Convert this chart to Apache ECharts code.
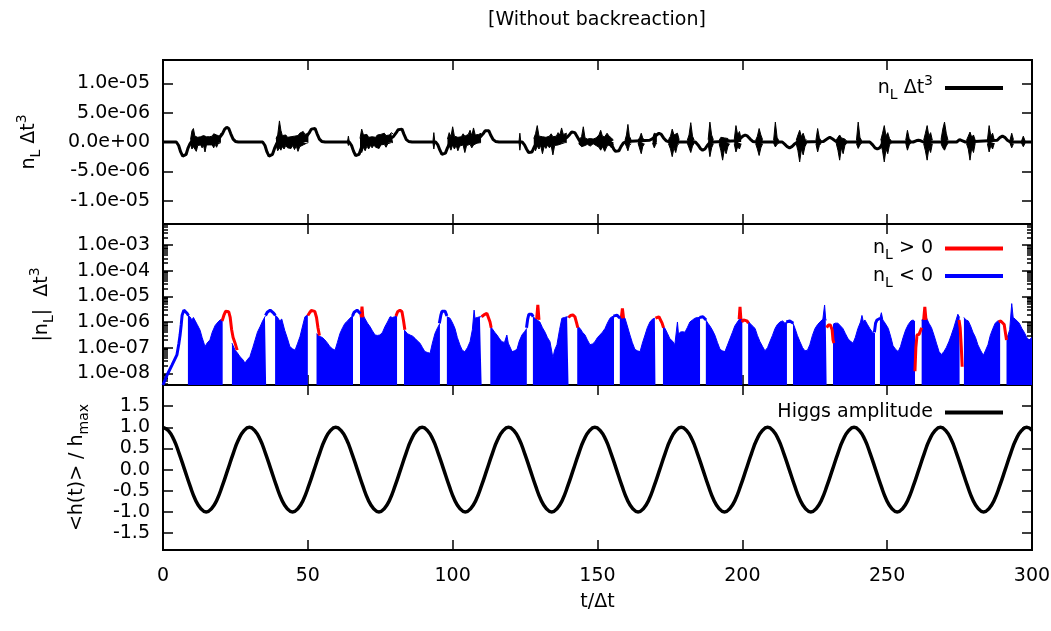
<!DOCTYPE html>
<html>
<head>
<meta charset="utf-8">
<script src="https://cdn.jsdelivr.net/npm/echarts@6/dist/echarts.min.js"></script>
<style>
  html, body { margin: 0; padding: 0; background: #fff; }
  #chart { width: 1051px; height: 631px; }
</style>
</head>
<body>
<div id="chart"></div>
<script>
// ---- axis ticks and labels ----
const xTicks = [0, 50, 100, 150, 200, 250, 300];
const nlTicks = [-1e-5, -5e-6, 0, 5e-6, 1e-5];
const absTicks = [1e-8, 1e-7, 1e-6, 1e-5, 1e-4, 1e-3];
const higgsTicks = [-1.5, -1, -0.5, 0, 0.5, 1, 1.5];

// n_L Δt^3 values are written in units of 1e-6
const MICRO = 1e-6;

// smooth part of the lepton-number trace [t, n_L (1e-6)]
const nlTrace = [
  [0,0],[4.6,0],[5.4,-0.6],[6.1,-1.7],[6.8,-2.4],[7.4,-2.6],[8,-2.1],[8.6,-1.1],[9.3,-0.3],[10,0.2],[11,0.3],[12.5,0.1],[14,0.2],[15.5,0.3],[17,0.2],[18.5,0.5],[19.6,0.8],[20.5,1.4],[21.3,2.2],[22,2.5],[22.7,2.3],[23.4,1.4],[24.2,0.5],[25,0.1],[26,0],
  [34.4,0],[35.2,-0.6],[35.9,-1.7],[36.6,-2.4],[37.2,-2.6],[37.8,-2.1],[38.5,-1.1],[39.2,-0.3],[40,0.2],[42,0.2],[44,0.1],[46,0.3],[48,0.5],[49.5,0.9],[50.4,1.5],[51.2,2.2],[51.8,2.5],[52.5,2.3],[53.2,1.4],[54,0.5],[54.8,0.1],[56,0],
  [64.3,0],[65.1,-0.6],[65.8,-1.6],[66.5,-2.3],[67.1,-2.5],[67.7,-2.1],[68.4,-1.1],[69.1,-0.3],[70,0.1],[72,0.2],[74,0.1],[76,0.3],[78,0.5],[79.5,0.9],[80.4,1.5],[81.2,2.1],[81.8,2.4],[82.5,2.2],[83.2,1.3],[84,0.4],[84.8,0.1],[86,0],
  [94.1,0],[94.9,-0.5],[95.6,-1.4],[96.3,-2.1],[96.9,-2.3],[97.5,-1.9],[98.2,-1.0],[98.9,-0.3],[100,0.1],[102,0.2],[104,0.1],[106,0.3],[108,0.5],[109.6,0.9],[110.5,1.4],[111.2,1.9],[111.8,2.1],[112.5,1.9],[113.2,1.1],[114,0.4],[114.8,0.1],[116,0],
  [124,0],[124.8,-0.5],[125.5,-1.2],[126.2,-1.8],[126.8,-2.0],[127.4,-1.7],[128.1,-0.9],[128.8,-0.3],[130,0.1],[132,0.2],[134,0.1],[136,0.3],[138,0.5],[139.5,0.8],[140.4,1.3],[141.1,1.7],[141.6,1.8],[142.2,1.6],[142.9,1.0],[143.7,0.3],[144.5,0],
  [154,0],[154.9,-0.5],[155.6,-1.2],[156.2,-1.6],[156.8,-1.7],[157.4,-1.5],[158.1,-0.8],[158.9,-0.2],[160,0.1],[168,0.3],[169.5,0.7],[170.4,1.2],[171.2,1.5],[172,1.3],[172.8,0.7],[173.7,0.2],[175,0],
  [183.8,0],[184.7,-0.5],[185.5,-1.1],[186.3,-1.4],[187.1,-1.2],[187.9,-0.6],[188.8,-0.1],[190,0],[198,0.2],[199.3,0.6],[200.2,1.0],[201,1.2],[201.8,1.0],[202.7,0.5],[203.6,0.1],[205,0],
  [213.8,0],[214.7,-0.4],[215.5,-0.8],[216.3,-1.0],[217.1,-0.8],[217.9,-0.4],[218.8,-0.1],[220,0],[228,0.1],[229.2,0.5],[230.2,0.8],[231.2,0.5],[232.3,0.1],[234,0],
  [244,0],[245,-0.5],[245.8,-1.0],[246.6,-1.2],[247.4,-1.0],[248.2,-0.5],[249.2,-0.1],[251,0],[259,0],[260,0.2],[260.8,0.3],[261.6,0.2],[262.5,0],
  [274,0],[275,0.4],[276,0.2],[277,0],[288,0.3],[289,0.8],[289.8,1.0],[290.6,0.8],[291.5,0.3],[292.5,0],[300,0]
];

// noisy bursts of the trace: [t, lower, upper] in 1e-6, null separates bursts
const nlBurst = [
  [9.5,-0.3,0.4],[10,-1.2,1.9],[10.5,-0.8,2.3],[11,-0.5,1.0],[11.5,-1.6,1.3],[12,-0.6,0.8],[12.5,-0.9,1.0],[13,-0.5,0.9],[13.5,-1.0,0.7],[14,-0.6,1.1],[14.5,-1.7,0.8],[15,-0.5,0.9],[15.5,-0.7,1.1],[16,-0.5,0.9],[16.5,-0.8,1.2],[17,-0.5,1.0],[17.5,-1.0,1.4],[18,-0.4,1.6],[18.5,-0.9,1.2],[19,-0.3,1.5],[19.5,-0.5,1.0],[20,-0.1,1.5],null,
  [39,-0.5,0.6],[39.6,-1.5,1.2],[40.2,-1.0,3.6],[40.7,-1.4,2.0],[41.2,-0.8,1.1],[41.8,-1.2,0.9],[42.4,-0.6,1.2],[43,-1.0,0.8],[43.6,-0.7,1.0],[44.2,-1.1,0.9],[44.8,-0.6,1.2],[45.4,-1.3,1.0],[46,-0.7,1.3],[46.6,-1.6,1.1],[47.2,-0.8,1.5],[47.8,-1.0,1.2],[48.4,-0.5,1.8],[49,-0.8,1.3],[49.6,-0.2,1.6],[50.2,-0.1,1.5],null,
  [63.7,-0.1,0.1],[64,-0.6,1.0],[64.3,-0.1,0.1],null,
  [68,-1.2,0.6],[68.6,-1.8,2.2],[69.2,-0.9,1.2],[69.8,-1.5,0.9],[70.4,-0.7,1.3],[71,-1.2,0.8],[71.6,-0.6,1.1],[72.2,-1.0,0.9],[72.8,-0.5,1.0],[73.4,-0.9,0.8],[74,-0.6,1.2],[74.6,-1.1,0.9],[75.2,-0.5,1.3],[75.8,-0.8,1.0],[76.4,-0.4,1.5],[77,-0.9,1.1],[77.6,-0.3,1.4],[78.2,-0.6,1.2],[78.8,-0.1,1.6],[79.4,-0.1,1.4],null,
  [93.2,-0.2,0.2],[93.5,-1.2,1.6],[93.8,-0.2,0.2],null,
  [98.2,-1.0,0.5],[98.8,-0.6,1.6],[99.4,-1.4,0.9],[100,-0.5,2.6],[100.6,-1.2,1.0],[101.2,-0.6,1.2],[101.8,-1.5,0.8],[102.4,-0.7,1.1],[103,-1.0,0.9],[103.6,-0.5,1.4],[104.2,-1.8,1.0],[104.8,-0.6,1.1],[105.4,-0.9,1.3],[106,-0.4,2.0],[106.6,-1.0,1.1],[107.2,-0.5,2.4],[107.8,-0.8,1.2],[108.4,-0.2,1.4],[109,-0.1,1.3],[109.8,-0.1,1.5],null,
  [122.9,-0.1,0.1],[123.2,-1.4,1.5],[123.5,-0.1,0.1],null,
  [128,-0.8,0.6],[128.6,-1.5,1.4],[129.2,-0.7,2.8],[129.8,-1.2,1.0],[130.4,-0.6,1.3],[131,-2.0,0.9],[131.6,-0.7,1.2],[132.2,-1.1,0.8],[132.8,-0.5,1.1],[133.4,-1.0,1.0],[134,-0.6,1.4],[134.6,-2.2,0.9],[135.2,-0.6,1.2],[135.8,-0.9,1.0],[136.4,-0.5,1.6],[137,-0.8,1.2],[137.6,-0.3,2.4],[138.2,-0.6,1.3],[138.8,-0.1,1.4],[139.4,-0.1,1.5],null,
  [143.5,-0.3,0.3],[144.5,-0.8,0.9],[145.1,-1.0,2.6],[145.7,-0.6,0.7],[146.5,-0.4,0.5],[147.5,-0.7,0.6],[148.5,-0.3,0.5],[149.5,-0.6,0.7],[150.5,-0.9,1.2],[151.1,-1.4,2.0],[151.7,-0.8,1.0],[152.5,-1.6,0.9],[153.3,-0.7,1.5],[154,-0.5,1.0],[154.8,-1.0,0.7],[155.5,-0.4,0.3],null,
  [159.5,-0.2,0.3],[160,-0.8,1.2],[160.5,-1.5,3.0],[161,-0.6,1.0],[161.6,-0.3,0.4],null,
  [164,-0.2,0.3],[164.6,-1.2,0.8],[165.1,-2.0,1.5],[165.6,-0.8,0.7],[166.2,-0.3,0.3],null,
  [169,-0.2,0.6],[169.6,-1.0,1.5],[170,-0.5,1.8],[170.5,-0.2,1.3],null,
  [174.5,-0.3,0.4],[175.2,-1.2,1.0],[175.8,-2.5,2.2],[176.4,-1.0,1.2],[177,-1.8,0.9],[177.6,-0.5,1.5],[178.2,-0.3,0.4],null,
  [181,-0.2,0.3],[181.6,-1.0,1.2],[182.2,-1.8,3.3],[182.8,-0.7,1.0],[183.4,-0.2,0.3],null,
  [188.2,-0.3,0.4],[188.8,-2.5,3.4],[189.4,-1.0,1.2],[190,-0.3,0.4],null,
  [192,-0.3,0.3],[192.6,-1.5,0.8],[193.2,-3.1,1.0],[193.8,-1.2,0.7],[194.4,-2.0,0.9],[195,-0.8,0.6],[195.6,-0.3,0.3],null,
  [197.2,-0.3,0.4],[197.8,-1.7,2.8],[198.4,-0.8,1.2],[199,-1.2,1.8],[199.6,-0.3,0.5],null,
  [204.6,-0.3,0.3],[205.2,-1.2,1.0],[205.8,-2.3,2.3],[206.4,-1.0,1.2],[207,-0.3,0.4],null,
  [210.8,-0.2,0.3],[211.4,-0.85,3.4],[212,-0.4,0.8],[212.6,-0.2,0.2],null,
  [218.6,-0.3,0.3],[219.2,-1.5,1.2],[219.8,-3.4,2.0],[220.4,-1.2,0.9],[221,-2.2,1.5],[221.6,-0.8,0.6],[222.2,-0.2,0.3],null,
  [225.4,-0.3,0.3],[226,-1.7,2.3],[226.6,-0.6,0.7],[227.2,-0.2,0.2],null,
  [232.4,-0.2,0.3],[233,-1.4,0.8],[233.6,-3.1,1.2],[234.2,-1.0,0.7],[234.8,-2.0,0.9],[235.4,-0.6,0.5],[236,-0.2,0.2],null,
  [239.4,-0.3,0.3],[240,-1.1,3.4],[240.6,-0.5,0.8],[241.2,-0.2,0.2],null,
  [247.8,-0.3,0.3],[248.4,-1.5,1.5],[249,-3.4,2.8],[249.6,-1.2,1.0],[250.2,-2.0,1.6],[250.8,-0.5,0.6],[251.4,-0.2,0.2],null,
  [256.4,-0.2,0.3],[257,-1.4,2.0],[257.6,-0.5,0.6],[258.2,-0.2,0.2],null,
  [262.6,-0.3,0.3],[263.2,-1.5,1.5],[263.8,-3.1,2.8],[264.4,-1.0,1.0],[265,-1.8,1.6],[265.6,-0.3,0.3],null,
  [268.6,-0.3,0.4],[269.2,-1.0,2.2],[269.8,-1.4,3.4],[270.4,-0.7,1.5],[271,-0.2,0.3],null,
  [277.4,-0.3,0.3],[278,-1.2,1.0],[278.6,-3.1,1.7],[279.2,-1.0,0.8],[279.8,-1.8,1.2],[280.4,-0.2,0.3],null,
  [284.6,-0.3,0.3],[285.2,-1.7,2.8],[285.8,-0.6,1.0],[286.4,-1.2,1.5],[287,-0.2,0.3],null,
  [292.4,-0.2,0.3],[293,-1.0,1.5],[293.6,-0.3,0.4],null,
  [296.4,-0.2,0.2],[297,-0.8,1.0],[297.6,-0.2,0.2]
];

// |n_L| Δt^3: envelope of the rapidly sign-changing stretches (filled to the axis)
const absNoisy = [
  [8.6,1.9e-6],[9.3,1.6e-6],[10,1.2e-6],[10.5,1.5e-6],[11,1.35e-6],[11.8,8e-7],[12.8,4.8e-7],[13.5,2.5e-7],[14.5,1.1e-7],[15.2,1.5e-7],[16.2,2e-7],[17,4e-7],[18,7.3e-7],[19,1e-6],[19.7,1.2e-6],[20.6,1.3e-6],null,
  [23.8,1.5e-7],[24.9,8e-8],[25.8,6e-8],[26.6,4.4e-8],[27.5,3.5e-8],[28.3,2.5e-8],[29.2,3.5e-8],[30,4.4e-8],[31,1e-7],[31.8,2e-7],[32.6,4e-7],[33.5,6.5e-7],[34.4,1.1e-6],[35.2,1.6e-6],[35.6,1.8e-6],null,
  [38.7,1.8e-6],[39.4,1.6e-6],[40.3,1.1e-6],[41,1.3e-6],[42,4.8e-7],[43,2.2e-7],[43.8,1.1e-7],[44.7,9e-8],[45.6,8e-8],[46.5,1.5e-7],[47.3,2.7e-7],[48.2,7e-7],[49,1.6e-6],[50,1.9e-6],null,
  [53,3.5e-7],[54.2,2.7e-7],[55,2.5e-7],[55.9,2e-7],[56.8,1.5e-7],[57.6,1.1e-7],[58.5,9e-8],[59.4,8e-8],[60.2,1.6e-7],[61.1,3.6e-7],[62,6e-7],[62.8,8.8e-7],[63.7,1.1e-6],[64.5,1.4e-6],[65.6,1.8e-6],null,
  [68,1.8e-6],[68.7,3.8e-6],[69.1,1.8e-6],[69.7,1.6e-6],[70.6,9e-7],[71.5,6.5e-7],[72.3,4.5e-7],[73.2,3.1e-7],[74,3e-7],[74.9,3.1e-7],[75.8,4e-7],[76.6,6.5e-7],[77.5,1e-6],[78.4,1.6e-6],[79.2,1.5e-6],[80,1.6e-6],[80.8,1.7e-6],null,
  [83.2,5e-7],[83.5,4.2e-7],[84.4,3.5e-7],[85.3,3.1e-7],[86.2,2.8e-7],[87,2.3e-7],[87.9,1.8e-7],[88.7,1.5e-7],[89.6,1e-7],[90.4,7e-8],[91.3,6.5e-8],[92.2,6e-8],[93,1.5e-7],[93.9,3.6e-7],[94.8,6e-7],[95.6,8.8e-7],null,
  [98,1.6e-6],[99.1,1.4e-6],[100,9e-7],[100.8,5.6e-7],[101.6,2.5e-7],[102.5,1.27e-7],[103.3,8e-8],[104.2,6.9e-8],[105.1,1e-7],[106,1.7e-7],[106.8,5e-7],[107.4,2.9e-6],[107.7,1.4e-6],[108.5,1.5e-6],[109.4,1.6e-6],[110,1.6e-6],null,
  [113,7e-7],[113.6,5.6e-7],[114.5,4e-7],[115.3,3.1e-7],[116.2,2.2e-7],[117,1.7e-7],[117.9,1.6e-7],[118.7,3.1e-7],[119.2,1.5e-7],[120.5,7e-8],[121.3,7.5e-8],[122.2,8.6e-8],[123,1.8e-7],[123.9,3.1e-7],[124.8,4.2e-7],[125.6,5.6e-7],null,
  [127.7,1.6e-6],[128.4,1.4e-6],[129.2,1.2e-6],[130.1,1e-6],[131,6e-7],[131.9,4e-7],[132.7,2.5e-7],[133.6,1.7e-7],[134.6,4e-8],[135.2,8e-8],[136,1.3e-7],[136.9,5e-7],[137.7,1.4e-6],[138.6,1.5e-6],[139.5,1.6e-6],[140,1.5e-6],null,
  [143,7e-7],[144,5.6e-7],[144.8,4e-7],[145.7,3.1e-7],[146.5,2e-7],[147.4,1.3e-7],[148.3,1.4e-7],[149.1,1.7e-7],[150,2.5e-7],[150.8,3.1e-7],[151.7,4e-7],[152.6,5.6e-7],[153.4,9e-7],[154.3,1.4e-6],[155,1.6e-6],[155.7,1.7e-6],null,
  [157.7,1.4e-6],[158.6,1.5e-6],[159.5,1.4e-6],[160.3,7e-7],[161.2,3.1e-7],[162,1.6e-7],[162.9,8.6e-8],[163.8,7.5e-8],[164.7,7e-8],[165.5,1.5e-7],[166.4,3.1e-7],[167.2,6e-7],[168.1,1e-6],[169,1.3e-6],[169.8,1.4e-6],[170,1.4e-6],null,
  [172.6,7e-7],[173.3,5.6e-7],[174.2,3.5e-7],[175,2.2e-7],[175.9,1.8e-7],[176.7,1.3e-7],[177.6,1e-6],[178,3e-7],[178.5,4e-7],[179.3,4.2e-7],[180.2,4e-7],[181,6e-7],[181.9,1e-6],[182.8,1.2e-6],[183.6,1.4e-6],[184.5,1.5e-6],[185.4,1.5e-6],null,
  [187.4,1.2e-6],[188.1,9e-7],[188.8,7e-7],[189.6,5e-7],[190.5,3.1e-7],[191.4,1.6e-7],[192.3,8.6e-8],[193.1,7.5e-8],[194,7e-8],[194.8,1.2e-7],[195.7,2.2e-7],[196.6,4e-7],[197.4,7e-7],[198.3,1e-6],[199.2,1.4e-6],[200,1.3e-6],null,
  [202,1.1e-6],[202.6,9e-7],[203.5,7e-7],[204.4,5.6e-7],[205.2,3e-7],[206.1,1.7e-7],[207,1.1e-7],[207.8,7.5e-8],[208.7,1e-7],[209.5,1.7e-7],[210.4,3e-7],[211.3,5.6e-7],[212.1,8e-7],[213,1e-6],[213.9,1.1e-6],[214.7,9e-7],[215.4,1e-6],null,
  [217.5,9e-7],[218.2,5.6e-7],[219,3e-7],[219.9,1.7e-7],[220.8,1e-7],[221.6,7.5e-8],[222.5,8e-8],[223.3,1.3e-7],[224.2,3e-7],[225.1,5.6e-7],[226,8e-7],[226.8,1e-6],[227.8,1.3e-6],[228.4,4.6e-6],[228.8,1.2e-6],[229.1,1.2e-6],null,
  [231.3,8e-7],[232,9e-7],[233,9e-7],[233.9,7e-7],[234.7,5.6e-7],[235.6,3.5e-7],[236.5,2.2e-7],[237.3,1.8e-7],[238.2,1.5e-7],[239,2.5e-7],[239.9,5.6e-7],[240.8,1e-6],[241.3,1.8e-6],[241.8,1e-6],[242.3,1.2e-6],[243.2,8e-7],[244,5.6e-7],[244.9,4e-7],[245.8,3.5e-7],null,
  [247.5,1.4e-6],[248,2.3e-6],[248.5,1.2e-6],[249.3,9e-7],[250.4,5.6e-7],[251.3,2.5e-7],[252,1.2e-7],[252.9,8.6e-8],[253.8,7e-8],[254.6,1.1e-7],[255.5,2.5e-7],[256.4,5e-7],[257.3,8e-7],[258.2,1.1e-6],[259,1.2e-6],[259.6,1e-6],null,
  [261.9,1.2e-6],[262.5,1.3e-6],[263.5,1.5e-6],[264.4,9e-7],[265.3,6e-7],[266.2,3e-7],[267,1.5e-7],[267.9,7e-8],[268.7,5.4e-8],[269.6,7e-8],[270.4,1e-7],[271.3,1.7e-7],[272.1,3e-7],[273,6e-7],[273.8,1.2e-6],[274.4,2e-6],[275,1.5e-6],null,
  [276.5,1.5e-6],[277.2,1.2e-6],[278,1.1e-6],[278.8,7e-7],[279.6,4e-7],[280.5,2.5e-7],[281.3,1.3e-7],[282.2,8e-8],[283.2,5e-8],[284,8e-8],[284.8,1.3e-7],[285.6,3e-7],[286.5,5.6e-7],[287.3,9e-7],[288.2,1.1e-6],[289,1.1e-6],null,
  [291.2,2e-7],[291.7,1.7e-7],[292.3,5e-7],[293,5.2e-6],[293.5,1.5e-6],[294.2,1.3e-6],[294.8,1.4e-6],[295.6,9e-7],[296.5,5.6e-7],[297.3,4e-7],[298.2,2.5e-7],[299,2e-7],[300,2.5e-7]
];

// |n_L| Δt^3 where n_L > 0
const absPositive = [
  [20.4,1.1e-6],[21,1.8e-6],[21.6,2.6e-6],[22.1,2.9e-6],[22.7,2.5e-6],[23.2,1.5e-6],[23.7,5e-7],[24.2,2.5e-7],[24.8,1.6e-7],[25.6,8e-8],null,
  [50,1.8e-6],[50.6,2.3e-6],[51.2,2.8e-6],[51.8,2.9e-6],[52.4,2.6e-6],[53,1.5e-6],[53.5,6e-7],[54,3e-7],null,
  [68.4,1.5e-6],[68.7,4e-6],[69,1.5e-6],null,
  [80.4,1.7e-6],[81,2.5e-6],[81.8,2.9e-6],[82.5,2.5e-6],[83,1.2e-6],[83.5,5e-7],null,
  [110,1.6e-6],[110.8,1.9e-6],[111.3,2.2e-6],[111.8,2.2e-6],[112.4,1.9e-6],[112.9,1e-6],[113.3,6e-7],null,
  [129,1.3e-6],[129.4,4.6e-6],[129.8,1.2e-6],null,
  [140,1.5e-6],[140.7,1.8e-6],[141.5,1.9e-6],[142.2,1.6e-6],[142.8,9e-7],[143.2,6e-7],null,
  [158.2,1.4e-6],[158.6,3.4e-6],[159,1.4e-6],null,
  [170,1.4e-6],[170.6,1.55e-6],[171.2,1.6e-6],[171.8,1.4e-6],[172.3,9e-7],[172.8,6e-7],null,
  [198.9,1.3e-6],[199.2,3.9e-6],[199.5,1.3e-6],null,
  [199.8,1e-6],[200.4,1.2e-6],[201,1.2e-6],[201.6,1.1e-6],[202.1,9e-7],null,
  [229.1,6e-7],[229.7,7.6e-7],[230.4,7.6e-7],[231,5e-7],[231.3,2e-7],[231.6,1.5e-7],null,
  [259.6,1.2e-8],[259.9,1e-7],[260.3,3.1e-7],[261,3.3e-7],[261.6,3e-7],[261.9,6e-7],null,
  [262.6,1.2e-6],[263,3.9e-6],[263.4,1.2e-6],null,
  [274.8,1.2e-6],[275.2,6e-7],[275.6,1e-7],[275.9,1.8e-8],null,
  [288.5,1e-6],[289.2,1.1e-6],[289.8,1.05e-6],[290.4,8e-7],[290.8,4e-7],[291.2,2e-7]
];

// |n_L| Δt^3 where n_L < 0 (smooth humps)
const absNegative = [
  [0,3.5e-9],[1.5,9e-9],[3.1,2.1e-8],[4.8,5.2e-8],[5.5,1.5e-7],[5.9,3.1e-7],[6.3,8e-7],[6.6,1.85e-6],[7.2,2.9e-6],[7.8,2.7e-6],[8.3,2.2e-6],[8.8,1.8e-6],null,
  [35.4,1.8e-6],[36,2.4e-6],[36.5,2.8e-6],[37,2.9e-6],[37.6,2.7e-6],[38.2,2.2e-6],[38.8,1.8e-6],null,
  [65.4,1.7e-6],[66,2.4e-6],[66.5,2.8e-6],[67,2.9e-6],[67.6,2.7e-6],[68.2,2.1e-6],null,
  [95.4,9e-7],[95.9,1.8e-6],[96.3,2.6e-6],[96.8,2.9e-6],[97.4,2.6e-6],[98,1.7e-6],null,
  [125.5,6e-7],[125.9,1.3e-6],[126.3,2e-6],[126.8,2.2e-6],[127.3,2e-6],[127.8,1.6e-6],null,
  [155.5,1.7e-6],[156.1,1.85e-6],[156.7,1.85e-6],[157.3,1.7e-6],[157.8,1.4e-6],null,
  [185.2,1.5e-6],[185.8,1.6e-6],[186.4,1.6e-6],[187,1.45e-6],[187.5,1.2e-6],null,
  [215.2,1e-6],[215.8,1.15e-6],[216.4,1.1e-6],[217,1e-6],[217.6,9e-7],null,
  [245.6,4e-7],[246,9e-7],[246.5,1.2e-6],[247,1.3e-6],[247.6,1.4e-6]
];

// Higgs amplitude <h(t)>/h_max, sampled every sixteenth of an oscillation
const higgsT = [
  0, 1.86, 3.73, 5.59, 7.46, 9.32, 11.18, 13.05, 14.91, 16.77, 18.64, 20.50, 22.37, 24.23, 26.09, 27.96,
  29.82, 31.68, 33.55, 35.41, 37.28, 39.14, 41.00, 42.87, 44.73, 46.59, 48.46, 50.32, 52.19, 54.05, 55.91, 57.78,
  59.64, 61.50, 63.37, 65.23, 67.10, 68.96, 70.82, 72.69, 74.55, 76.41, 78.28, 80.14, 82.01, 83.87, 85.73, 87.60,
  89.46, 91.32, 93.19, 95.05, 96.92, 98.78, 100.64, 102.51, 104.37, 106.23, 108.10, 109.96, 111.83, 113.69, 115.55, 117.42,
  119.28, 121.14, 123.01, 124.87, 126.74, 128.60, 130.46, 132.33, 134.19, 136.05, 137.92, 139.78, 141.65, 143.51, 145.37, 147.24,
  149.10, 150.96, 152.83, 154.69, 156.56, 158.42, 160.28, 162.15, 164.01, 165.87, 167.74, 169.60, 171.47, 173.33, 175.19, 177.06,
  178.92, 180.78, 182.65, 184.51, 186.38, 188.24, 190.10, 191.97, 193.83, 195.69, 197.56, 199.42, 201.29, 203.15, 205.01, 206.88,
  208.74, 210.60, 212.47, 214.33, 216.20, 218.06, 219.92, 221.79, 223.65, 225.51, 227.38, 229.24, 231.11, 232.97, 234.83, 236.70,
  238.56, 240.42, 242.29, 244.15, 246.02, 247.88, 249.74, 251.61, 253.47, 255.33, 257.20, 259.06, 260.93, 262.79, 264.65, 266.52,
  268.38, 270.24, 272.11, 273.97, 275.84, 277.70, 279.56, 281.43, 283.29, 285.15, 287.02, 288.88, 290.75, 292.61, 294.47, 296.34,
  298.20, 300
];
const higgsH = [
  1, 0.92, 0.71, 0.38, 0, -0.38, -0.71, -0.92, -1, -0.92, -0.71, -0.38, 0, 0.38, 0.71, 0.92,
  1, 0.92, 0.71, 0.38, 0, -0.38, -0.71, -0.92, -1, -0.92, -0.71, -0.38, 0, 0.38, 0.71, 0.92,
  1, 0.92, 0.71, 0.38, 0, -0.38, -0.71, -0.92, -1, -0.92, -0.71, -0.38, 0, 0.38, 0.71, 0.92,
  1, 0.92, 0.71, 0.38, 0, -0.38, -0.71, -0.92, -1, -0.92, -0.71, -0.38, 0, 0.38, 0.71, 0.92,
  1, 0.92, 0.71, 0.38, 0, -0.38, -0.71, -0.92, -1, -0.92, -0.71, -0.38, 0, 0.38, 0.71, 0.92,
  1, 0.92, 0.71, 0.38, 0, -0.38, -0.71, -0.92, -1, -0.92, -0.71, -0.38, 0, 0.38, 0.71, 0.92,
  1, 0.92, 0.71, 0.38, 0, -0.38, -0.71, -0.92, -1, -0.92, -0.71, -0.38, 0, 0.38, 0.71, 0.92,
  1, 0.92, 0.71, 0.38, 0, -0.38, -0.71, -0.92, -1, -0.92, -0.71, -0.38, 0, 0.38, 0.71, 0.92,
  1, 0.92, 0.71, 0.38, 0, -0.38, -0.71, -0.92, -1, -0.92, -0.71, -0.38, 0, 0.38, 0.71, 0.92,
  1, 0.92, 0.71, 0.38, 0, -0.38, -0.71, -0.92, -1, -0.92, -0.71, -0.38, 0, 0.38, 0.71, 0.92,
  1, 0.93
];

// ---- styling helpers ----
const FONT = 'DejaVu Sans';
const INK = '#000';
const RED = '#ff0000';
const BLUE = '#0000ff';

const rich = {
  t: { fontFamily: FONT, fontSize: 19, color: INK, lineHeight: 28 },
  s: { fontFamily: FONT, fontSize: 14, color: INK, lineHeight: 14, verticalAlign: 'bottom' },
  p: { fontFamily: FONT, fontSize: 14, color: INK, lineHeight: 14, verticalAlign: 'top' },
  g: { width: 7 }
};

function expLabel(v) {
  if (v === 0) return '0.0e+00';
  return v.toExponential(1).replace(/e([+-])(\d+)$/, (m, sg, d) => 'e' + sg + (d.length < 2 ? '0' + d : d));
}

// minor decade ticks for the logarithmic panel
const ABS_MIN = 3.5e-9, ABS_MAX = 6.6e-3;
const absMinor = [];
for (let e = -9; e <= -3; e++) {
  for (let m = 2; m <= 9; m++) {
    const v = m * Math.pow(10, e);
    if (v > ABS_MIN && v < ABS_MAX) absMinor.push(v);
  }
}

const tickLine = { color: INK, width: 1.5 };

function xAxisFor(gi, pos, withLabels) {
  const ax = {
    type: 'value', gridIndex: gi, position: pos, min: 0, max: 300,
    axisLine: { show: false, onZero: false }, splitLine: { show: false },
    axisTick: { show: true, inside: true, length: 10, customValues: xTicks, lineStyle: tickLine },
    axisLabel: { show: withLabels, customValues: xTicks, margin: 17, color: INK, fontFamily: FONT, fontSize: 19 }
  };
  if (withLabels) {
    ax.name = 't/Δt';
    ax.nameLocation = 'middle';
    ax.nameGap = 43;
    ax.nameTextStyle = { color: INK, fontFamily: FONT, fontSize: 19 };
  }
  return ax;
}

function yAxisFor(gi, pos, cfg) {
  return Object.assign({
    type: 'value', gridIndex: gi, position: pos,
    axisLine: { show: false, onZero: false }, splitLine: { show: false },
    axisTick: { show: true, inside: true, length: cfg.tickLen || 10, customValues: cfg.ticks, lineStyle: tickLine },
    axisLabel: { show: !!cfg.labels, customValues: cfg.ticks, margin: 13, color: INK, fontFamily: FONT, fontSize: 19, formatter: cfg.formatter }
  }, cfg.extra);
}

const nlExtra = { min: -1.4e-5, max: 1.4e-5 };
const absExtra = { type: 'log', logBase: 10, min: ABS_MIN, max: ABS_MAX };
const hExtra = { min: -1.9, max: 2.0 };

const nameStyle = { color: INK, fontFamily: FONT, fontSize: 19, rich: rich };

const yAxes = [
  yAxisFor(0, 'left', { ticks: nlTicks, labels: true, formatter: expLabel, extra: Object.assign({
    name: '{t|n}{s|L}{t| Δt}{p|3}', nameLocation: 'middle', nameRotate: 90, nameGap: 120, nameTextStyle: nameStyle }, nlExtra) }),
  yAxisFor(0, 'right', { ticks: nlTicks, extra: nlExtra }),
  yAxisFor(1, 'left', { ticks: absTicks, labels: true, formatter: expLabel, extra: Object.assign({
    name: '{t||n}{s|L}{t||  Δt}{p|3}', nameLocation: 'middle', nameRotate: 90, nameGap: 107, nameTextStyle: nameStyle }, absExtra) }),
  yAxisFor(1, 'right', { ticks: absTicks, extra: absExtra }),
  yAxisFor(1, 'left', { ticks: absMinor, tickLen: 5, extra: absExtra }),
  yAxisFor(1, 'right', { ticks: absMinor, tickLen: 5, extra: absExtra }),
  yAxisFor(2, 'left', { ticks: higgsTicks, labels: true, formatter: v => v.toFixed(1), extra: Object.assign({
    name: '{t|<h(t)> / h}{s|max}', nameLocation: 'middle', nameRotate: 90, nameGap: 72, nameTextStyle: nameStyle }, hExtra) }),
  yAxisFor(2, 'right', { ticks: higgsTicks, extra: hExtra })
];

const xAxes = [
  xAxisFor(0, 'bottom', false), xAxisFor(0, 'top', false),
  xAxisFor(1, 'bottom', false), xAxisFor(1, 'top', false),
  xAxisFor(2, 'bottom', true), xAxisFor(2, 'top', false)
];

const gridBase = { left: 163, right: 19, show: true, borderColor: INK, borderWidth: 2, backgroundColor: 'transparent', outerBoundsMode: 'none', containLabel: false };
const grids = [
  Object.assign({ top: 60, height: 164 }, gridBase),
  Object.assign({ top: 224, height: 161 }, gridBase),
  Object.assign({ top: 385, height: 165 }, gridBase)
];

const legendNames = {
  'nL Δt3': '{t|n}{s|L}{t| Δt}{p|3}{g|}',
  'nL > 0': '{t|n}{s|L}{t| > 0}{g|}',
  'nL < 0': '{t|n}{s|L}{t| < 0}{g|}',
  'Higgs amplitude': '{t|Higgs amplitude}{g|}'
};
function legendFor(names, top, gap) {
  return {
    data: names, top: top, right: 43, orient: 'vertical', align: 'right',
    icon: 'rect', itemWidth: 58, itemHeight: 4, itemGap: gap || 0,
    itemStyle: { borderWidth: 0 },
    formatter: n => legendNames[n],
    textStyle: { color: INK, fontFamily: FONT, fontSize: 19, rich: rich },
    selectedMode: false
  };
}

const micro = p => (p ? [p[0], p[1] * MICRO] : null);

const option = {
  animation: false,
  backgroundColor: '#fff',
  title: {
    text: '[Without backreaction]', left: 483, top: 6,
    textStyle: { color: INK, fontFamily: FONT, fontSize: 19, fontWeight: 'normal' }
  },
  grid: grids,
  xAxis: xAxes,
  yAxis: yAxes,
  legend: [
    legendFor(['nL Δt3'], 69),
    legendFor(['nL > 0', 'nL < 0'], 234, 4),
    legendFor(['Higgs amplitude'], 398)
  ],
  series: [
    {
      type: 'line', xAxisIndex: 0, yAxisIndex: 0, symbol: 'none',
      data: nlBurst.map(b => (b ? [b[0], b[2] * MICRO] : null)),
      lineStyle: { color: INK, width: 1 }, itemStyle: { color: INK },
      areaStyle: { color: INK, opacity: 1, origin: 'auto' }, z: 2
    },
    {
      type: 'line', xAxisIndex: 0, yAxisIndex: 0, symbol: 'none',
      data: nlBurst.map(b => (b ? [b[0], b[1] * MICRO] : null)),
      lineStyle: { color: INK, width: 1 }, itemStyle: { color: INK },
      areaStyle: { color: INK, opacity: 1, origin: 'auto' }, z: 2
    },
    {
      name: 'nL Δt3', type: 'line', xAxisIndex: 0, yAxisIndex: 0, symbol: 'none',
      data: nlTrace.map(micro),
      lineStyle: { color: INK, width: 3 }, itemStyle: { color: INK }, z: 3
    },
    {
      type: 'line', xAxisIndex: 2, yAxisIndex: 2, symbol: 'none',
      data: absNoisy,
      lineStyle: { color: BLUE, width: 1 }, itemStyle: { color: BLUE },
      areaStyle: { color: BLUE, opacity: 1, origin: 'start' }, z: 2
    },
    {
      name: 'nL > 0', type: 'line', xAxisIndex: 2, yAxisIndex: 2, symbol: 'none',
      data: absPositive,
      lineStyle: { color: RED, width: 3 }, itemStyle: { color: RED }, z: 3
    },
    {
      name: 'nL < 0', type: 'line', xAxisIndex: 2, yAxisIndex: 2, symbol: 'none',
      data: absNegative,
      lineStyle: { color: BLUE, width: 3 }, itemStyle: { color: BLUE }, z: 3
    },
    {
      name: 'Higgs amplitude', type: 'line', xAxisIndex: 4, yAxisIndex: 6, symbol: 'none',
      smooth: true,
      data: higgsT.map((t, i) => [t, higgsH[i]]),
      lineStyle: { color: INK, width: 3.5 }, itemStyle: { color: INK }, z: 3
    }
  ]
};

const chart = echarts.init(document.getElementById('chart'), null, { renderer: 'canvas' });
chart.setOption(option);
</script>
</body>
</html>
